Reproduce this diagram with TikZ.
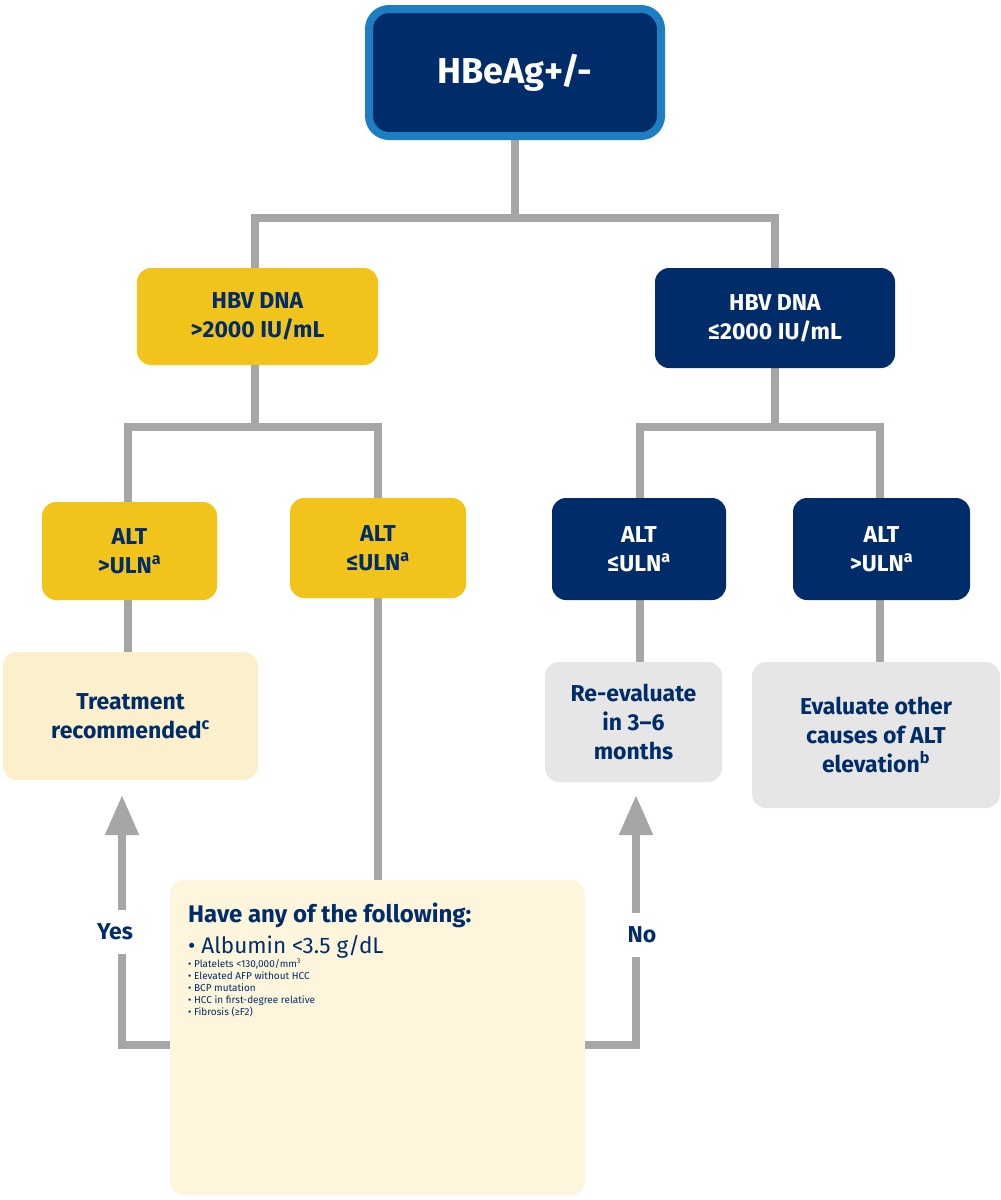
\documentclass[tikz,border=0pt]{standalone}
\usepackage{fontspec}
\setmainfont{Fira Sans}
\usetikzlibrary{arrows.meta}
\definecolor{navy}{HTML}{002D6A}
\definecolor{lblue}{HTML}{1E7EC2}
\definecolor{ylw}{HTML}{F2C31B}
\definecolor{lylw}{HTML}{FCEFCB}
\definecolor{lgray}{HTML}{E6E6E6}
\definecolor{conn}{HTML}{A7A5A6}
\begin{document}
\begin{tikzpicture}[x=1pt,y=-1pt,
  box/.style={rounded corners=14pt,align=center,font=\bfseries\fontsize{23}{29}\selectfont,inner sep=0pt},
  dk/.style={box,fill=navy,text=white},
  yl/.style={box,fill=ylw,text=navy},
  ly/.style={box,fill=lylw,text=navy},
  gy/.style={box,fill=lgray,text=navy},
  ln/.style={draw=conn,line width=8pt},
  ar/.style={ln,-{Triangle[width=32pt,length=40pt]}},
  lab/.style={fill=white,text=navy,font=\bfseries\fontsize{23}{29}\selectfont,minimum width=64pt,minimum height=44pt,inner sep=0pt}]
\useasboundingbox (0,0) rectangle (1001,1200);
% connectors first
\coordinate (t0) at (515,140); \coordinate (t1) at (515,218);
\coordinate (a1) at (255,218); \coordinate (b1) at (775,218);
\draw[ln] (t0) -- (t1);
\draw[ln] (255,275) -- (255,218) -- (775,218) -- (775,275);
\draw[ln] (255,360) -- (255,427);
\draw[ln] (128,510) -- (128,427) -- (378,427) -- (378,510);
\draw[ln] (775,360) -- (775,427);
\draw[ln] (640,510) -- (640,427) -- (880,427) -- (880,510);
\draw[ln] (128,595) -- (128,660);
\draw[ln] (378,595) -- (378,890);
\draw[ln] (640,595) -- (640,670);
\draw[ln] (880,595) -- (880,670);
\draw[ar] (180,1045) -- (122,1045) -- (122,795);
\draw[ar] (575,1045) -- (636,1045) -- (636,795);
% nodes
\node[draw=lblue,line width=8pt,fill=navy,rounded corners=20pt,minimum width=292pt,minimum height=127pt,text=white,font=\bfseries\fontsize{36}{40}\selectfont] (top) at (515,72.5) {HBeAg+/-};
\node[yl,minimum width=241pt,minimum height=97pt] (hl) at (257.5,316.5) {HBV DNA\\>2000 IU/mL};
\node[dk,minimum width=240pt,minimum height=100pt] (hr) at (775,318) {HBV DNA\\≤2000 IU/mL};
\node[yl,minimum width=175pt,minimum height=98pt] (a) at (129.5,551) {ALT\\>ULN\textsuperscript{a}};
\node[yl,minimum width=176pt,minimum height=100pt] (b) at (378,548) {ALT\\≤ULN\textsuperscript{a}};
\node[dk,minimum width=174pt,minimum height=102pt] (c) at (639,549) {ALT\\≤ULN\textsuperscript{a}};
\node[dk,minimum width=177pt,minimum height=102pt] (d) at (881.5,549) {ALT\\>ULN\textsuperscript{a}};
\node[ly,minimum width=255pt,minimum height=128pt] (tr) at (130.5,716) {Treatment\\recommended\textsuperscript{c}};
\node[gy,minimum width=177pt,minimum height=120pt] (re) at (633.5,722) {Re-evaluate\\in 3–6\\months};
\node[gy,minimum width=248pt,minimum height=146pt] (ev) at (876,735) {Evaluate other\\causes of ALT\\elevation\textsuperscript{b}};
\node[ly,fill=lylw!80!ylw!40,minimum width=415pt,minimum height=315pt] (bx) at (377.5,1037.5) {};
\node[anchor=north west,text=navy,align=left,inner sep=0pt] at (188,903) {\bfseries\fontsize{24}{30}\selectfont Have any of the following:\\[6pt]
\fontsize{22.5}{32.5}\selectfont • Albumin <3.5 g/dL\\ • Platelets <130,000/mm\textsuperscript{3}\\ • Elevated AFP without HCC\\ • BCP mutation\\ • HCC in first-degree relative\\ • Fibrosis (≥F2)};
\node[lab] (yes) at (115,932) {Yes};
\node[lab] (no) at (642,935) {No};
\end{tikzpicture}
\end{document}
